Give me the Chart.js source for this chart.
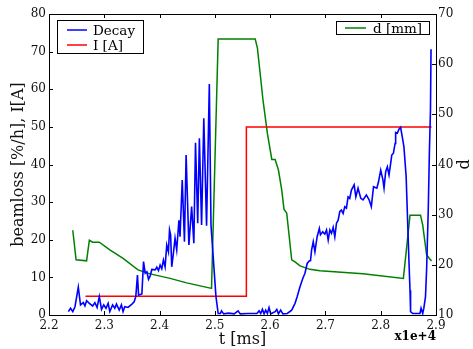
<!DOCTYPE html>
<html>
<head>
<meta charset="utf-8">
<script src="https://cdn.jsdelivr.net/npm/chart.js@4/dist/chart.umd.min.js"></script>
<style>
  html, body { margin: 0; padding: 0; background: #fff; }
  #wrap { width: 473px; height: 349px; }
</style>
</head>
<body>
<div id="wrap"><canvas id="canvas_beamloss"></canvas></div>
<script>
// t in units of 1e4 ms (axis shows x1e+4)
const decayT = [
  2.235, 2.239, 2.243, 2.247, 2.253, 2.257, 2.262, 2.265, 2.268, 2.273,
  2.279, 2.283, 2.287, 2.291, 2.295, 2.299, 2.303, 2.307, 2.310, 2.315,
  2.319, 2.322, 2.327, 2.331, 2.334, 2.337, 2.343, 2.350, 2.354, 2.357,
  2.360, 2.362, 2.368, 2.371, 2.374, 2.377, 2.380, 2.383, 2.386, 2.392,
  2.395, 2.398, 2.401, 2.404, 2.407, 2.410, 2.413, 2.416, 2.418, 2.420,
  2.422, 2.425, 2.428, 2.431, 2.435, 2.437, 2.441, 2.445, 2.448, 2.453,
  2.458, 2.462, 2.465, 2.469, 2.472, 2.476, 2.480, 2.485, 2.490, 2.493,
  2.502, 2.506, 2.510, 2.512, 2.516, 2.525, 2.535, 2.542, 2.546, 2.560,
  2.576, 2.580, 2.583, 2.586, 2.589, 2.592, 2.595, 2.598, 2.601, 2.605,
  2.609, 2.612, 2.615, 2.619, 2.623, 2.631, 2.639, 2.645, 2.649, 2.654,
  2.659, 2.663, 2.667, 2.671, 2.673, 2.675, 2.678, 2.681, 2.685, 2.689,
  2.691, 2.695, 2.699, 2.702, 2.705, 2.708, 2.711, 2.714, 2.717, 2.720,
  2.723, 2.726, 2.729, 2.732, 2.735, 2.738, 2.741, 2.744, 2.747, 2.752,
  2.755, 2.759, 2.764, 2.768, 2.774, 2.779, 2.783, 2.787, 2.793, 2.796,
  2.800, 2.804, 2.806, 2.809, 2.812, 2.815, 2.818, 2.820, 2.823, 2.826,
  2.827, 2.830, 2.833, 2.836, 2.840, 2.842, 2.846, 2.848, 2.851, 2.853,
  2.854, 2.858, 2.865, 2.871, 2.873, 2.876, 2.878, 2.881, 2.883, 2.886,
  2.888, 2.890, 2.891
];
const decayV = [
  0.9, 1.8, 0.9, 2.2, 7.4, 2.7, 3.3, 2.4, 3.8, 3.1,
  2.4, 3.3, 2.0, 4.9, 1.5, 2.7, 1.8, 3.1, 0.9, 2.7,
  1.8, 2.9, 1.3, 2.7, 0.9, 2.2, 2.0, 2.9, 3.5, 4.9,
  10.6, 5.3, 5.6, 14.2, 11.1, 11.5, 9.5, 10.4, 12.1, 12.0,
  12.7, 11.8, 13.3, 12.3, 14.6, 12.8, 18.6, 16.8, 22.6, 21.3,
  12.8, 16.4, 20.4, 17.3, 25.2, 20.8, 35.9, 19.5, 42.5, 18.6,
  28.8, 19.1, 45.8, 24.4, 47.0, 23.9, 52.3, 23.7, 61.4, 23.9,
  4.9, 0.4, 0.4, 1.1, 0.3, 0.5, 0.3, 1.1, 0.3, 0.4,
  0.4, 1.1, 0.4, 1.5, 0.3, 1.3, 0.4, 2.0, 0.3, 0.6,
  0.9, 1.5, 0.3, 1.3, 0.3, 0.4, 1.3, 3.1, 4.9, 7.5,
  9.7, 11.1, 13.7, 14.4, 14.4, 17.3, 19.5, 16.8, 20.8, 23.0,
  21.3, 22.1, 21.5, 22.6, 19.9, 22.6, 21.7, 23.3, 20.8, 24.4,
  25.2, 27.5, 27.9, 27.0, 28.8, 28.4, 31.4, 31.0, 33.2, 34.6,
  31.4, 33.7, 31.0, 30.6, 31.9, 30.6, 28.8, 34.1, 33.7, 35.4,
  38.5, 35.9, 33.7, 38.1, 39.4, 37.2, 40.3, 42.5, 43.0, 45.6,
  48.5, 48.3, 49.4, 49.9, 46.5, 44.7, 36.8, 27.9, 14.6, 6.6,
  0.9, 0.4, 0.4, 0.4, 1.8, 0.4, 1.8, 4.9, 12.0, 27.9,
  43.0, 54.5, 70.6
];

const currentT = [2.266, 2.557, 2.557, 2.892];
const currentV = [5, 5, 50, 50];

const gapT = [
  2.243, 2.249, 2.268, 2.273, 2.279, 2.291, 2.310, 2.334, 2.361, 2.383,
  2.419, 2.449, 2.494, 2.506, 2.573, 2.577, 2.587, 2.595, 2.603, 2.609,
  2.615, 2.621, 2.625, 2.630, 2.639, 2.645, 2.654, 2.672, 2.690, 2.768,
  2.841, 2.853, 2.872, 2.876, 2.883, 2.889, 2.892
];
const gapV = [
  26.9, 21.0, 20.8, 24.9, 24.5, 24.5, 23.0, 21.3, 19.0, 18.2,
  17.3, 16.4, 15.3, 65.0, 65.0, 63.2, 52.9, 46.2, 41.0, 41.0,
  38.9, 34.9, 31.1, 30.3, 21.0, 20.6, 19.8, 19.1, 18.8, 18.2,
  17.3, 29.9, 29.9, 27.9, 22.0, 21.1, 20.8
];

const serif = "'DejaVu Serif', serif";

function toPoints(xs, ys) {
  return xs.map((x, i) => ({ x: x, y: ys[i] }));
}

// matplotlib look: closed frame, inward ticks, boxed legends, offset text
const mplDecor = {
  id: "mplDecor",
  afterDraw(chart) {
    const ctx = chart.ctx;
    const a = chart.chartArea;
    const sx = chart.scales.x, sy = chart.scales.y, sy1 = chart.scales.y1;
    const tl = 4;
    ctx.save();
    ctx.strokeStyle = "#000";
    ctx.lineWidth = 1;
    ctx.strokeRect(a.left + 0.5, a.top + 0.5, a.right - a.left, a.bottom - a.top);
    ctx.beginPath();
    sx.ticks.forEach((t) => {
      const p = Math.round(sx.getPixelForValue(t.value)) + 0.5;
      ctx.moveTo(p, a.bottom); ctx.lineTo(p, a.bottom - tl);
      ctx.moveTo(p, a.top); ctx.lineTo(p, a.top + tl);
    });
    sy.ticks.forEach((t) => {
      const p = Math.round(sy.getPixelForValue(t.value)) + 0.5;
      ctx.moveTo(a.left, p); ctx.lineTo(a.left + tl, p);
    });
    sy1.ticks.forEach((t) => {
      const p = Math.round(sy1.getPixelForValue(t.value)) + 0.5;
      ctx.moveTo(a.right, p); ctx.lineTo(a.right - tl, p);
    });
    ctx.stroke();

    const ds = chart.data.datasets;
    ctx.font = "13.5px " + serif;
    ctx.textBaseline = "middle";
    ctx.textAlign = "left";

    // left legend: Decay, I [A]
    let bx = a.left + 8, by = a.top + 6;
    ctx.fillStyle = "#fff";
    ctx.fillRect(bx, by, 86, 33);
    ctx.strokeStyle = "#000";
    ctx.strokeRect(bx + 0.5, by + 0.5, 86, 33);
    [ds[0], ds[1]].forEach((d, i) => {
      const ly = by + 10 + i * 15;
      ctx.strokeStyle = d.borderColor;
      ctx.lineWidth = 1.5;
      ctx.beginPath();
      ctx.moveTo(bx + 10, ly); ctx.lineTo(bx + 30, ly);
      ctx.stroke();
      ctx.fillStyle = "#000";
      ctx.fillText(d.label, bx + 36, ly + 1);
    });

    // right legend: d [mm]
    bx = a.right - 100; by = a.top + 7;
    ctx.lineWidth = 1;
    ctx.fillStyle = "#fff";
    ctx.fillRect(bx, by, 93, 13);
    ctx.strokeStyle = "#000";
    ctx.strokeRect(bx + 0.5, by + 0.5, 93, 13);
    ctx.strokeStyle = ds[2].borderColor;
    ctx.lineWidth = 1.5;
    ctx.beginPath();
    ctx.moveTo(bx + 9, by + 7); ctx.lineTo(bx + 30, by + 7);
    ctx.stroke();
    ctx.fillStyle = "#000";
    ctx.fillText(ds[2].label, bx + 37, by + 8);

    // right axis label, rotated like matplotlib (reads bottom to top)
    ctx.save();
    ctx.translate(chart.width - 8, (a.top + a.bottom) / 2);
    ctx.rotate(-Math.PI / 2);
    ctx.font = "16px " + serif;
    ctx.fillStyle = "#111";
    ctx.textAlign = "center";
    ctx.textBaseline = "middle";
    ctx.fillText("d", 0, 0);
    ctx.restore();

    // offset text
    ctx.font = "bold 12px " + serif;
    ctx.textAlign = "right";
    ctx.textBaseline = "alphabetic";
    ctx.fillStyle = "#000";
    ctx.fillText("x1e+4", a.right, a.bottom + 25);
    ctx.restore();
  },
};

const config = {
  type: "line",
  data: {
    datasets: [
      {
        label: "Decay",
        data: toPoints(decayT, decayV),
        borderColor: "#0000ff",
        borderWidth: 1.6,
        pointRadius: 0,
        yAxisID: "y",
      },
      {
        label: "I [A]",
        data: toPoints(currentT, currentV),
        borderColor: "#ff0000",
        borderWidth: 1.5,
        pointRadius: 0,
        yAxisID: "y",
      },
      {
        label: "d [mm]",
        data: toPoints(gapT, gapV),
        borderColor: "#008000",
        borderWidth: 1.5,
        pointRadius: 0,
        yAxisID: "y1",
      },
    ],
  },
  options: {
    responsive: true,
    maintainAspectRatio: false,
    animation: false,
    layout: { padding: { top: 14, left: 0, right: 0, bottom: 0 } },
    plugins: {
      legend: { display: false },
      tooltip: { enabled: false },
    },
    scales: {
      x: {
        type: "linear",
        min: 2.2,
        max: 2.9,
        grid: { display: false, drawTicks: false },
        border: { display: false },
        ticks: {
          stepSize: 0.1,
          padding: 4,
          color: "#111",
          font: { family: serif, size: 12 },
          callback: (v) => v.toFixed(1),
        },
        title: {
          display: true,
          text: "t [ms]",
          color: "#111",
          padding: 0,
          font: { family: serif, size: 16 },
        },
        afterFit: (scale) => { scale.height = 34; },
      },
      y: {
        position: "left",
        min: 0,
        max: 80,
        grid: { display: false, drawTicks: false },
        border: { display: false },
        ticks: {
          stepSize: 10,
          padding: 3,
          color: "#111",
          font: { family: serif, size: 12 },
        },
        title: {
          display: true,
          text: "beamloss [%/h], I[A]",
          color: "#111",
          padding: { top: 9, bottom: 0 },
          font: { family: serif, size: 16 },
        },
        afterFit: (scale) => { scale.width = 49; },
      },
      y1: {
        position: "right",
        min: 10,
        max: 70,
        grid: { display: false, drawTicks: false },
        border: { display: false },
        ticks: {
          stepSize: 10,
          padding: 2,
          color: "#111",
          font: { family: serif, size: 12 },
        },
        afterFit: (scale) => { scale.width = 37; },
      },
    },
  },
  plugins: [mplDecor],
};

window.chart = new Chart(document.getElementById("canvas_beamloss"), config);
</script>
</body>
</html>
